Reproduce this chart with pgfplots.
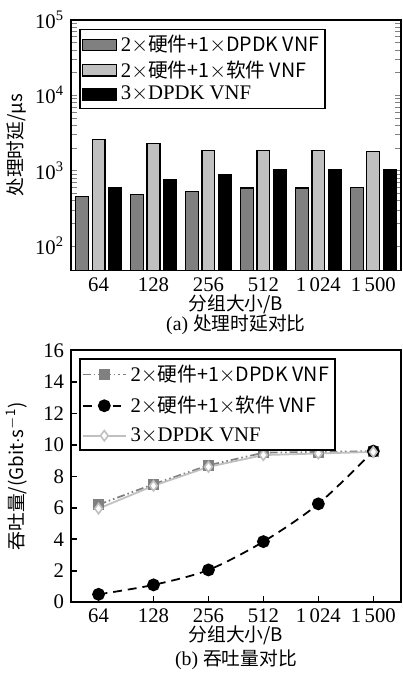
\documentclass[border=0pt]{standalone}
\usepackage{pgfplots}
\pgfplotsset{compat=1.18}
\usepackage{fontspec}
\setmainfont{Liberation Serif}
\newfontfamily\cjk{Noto Sans CJK SC}[Scale=0.95]
\definecolor{dgray}{RGB}{128,128,128}
\definecolor{lgray}{RGB}{192,192,192}
\newcommand{\x}{$\times$}
\begin{document}
\fontsize{10pt}{12pt}\selectfont
\begin{tikzpicture}
\begin{axis}[
  name=top,
  at={(0,0)}, anchor=south west,
  width=167pt, height=127pt, scale only axis,
  ymode=log, ymin=47, ymax=1e5, log origin=infty,
  xmin=-0.5, xmax=5.5,
  xtick={0,...,5}, xticklabels={64,128,256,512,1\,024,1\,500},
  ytick={100,1000,10000,100000},
  yticklabels={10\textsuperscript{2},10\textsuperscript{3},10\textsuperscript{4},10\textsuperscript{5}},
  major tick length=0pt, minor tick num=0,
  axis line style={line width=1pt},
  tick label style={font=\fontsize{10.5pt}{12pt}\selectfont},
  ybar=1.75pt, bar width=6.5pt,
  xlabel={\cjk{分组大小}/B},
  xlabel style={at={(axis description cs:0.5,0)}, anchor=center, yshift=-17pt},
  ylabel={\cjk{处理时延}/μs},
  ylabel style={at={(axis description cs:-0.165,0.5)}, anchor=center},
  legend style={at={(0.025,0.965)}, anchor=north west, draw=black, line width=0.8pt,
    font=\fontsize{10.5pt}{11pt}\selectfont, cells={anchor=west}, inner sep=1pt, row sep=-1pt},
  area legend,
]
\addplot[fill=dgray, draw=black, line width=0.6pt] coordinates {(0,455) (1,480) (2,530) (3,585) (4,585) (5,590)};
\addplot[fill=lgray, draw=black, line width=0.6pt] coordinates {(0,2600) (1,2250) (2,1850) (3,1850) (4,1850) (5,1780)};
\addplot[fill=black, draw=black, line width=0.6pt] coordinates {(0,600) (1,760) (2,885) (3,1040) (4,1040) (5,1040)};
\legend{2\x\cjk{硬件}+1\x DPDK VNF, 2\x\cjk{硬件}+1\x\cjk{软件} VNF, 3\x DPDK VNF}
\end{axis}
\path ([yshift=10pt]top.north);
\node[anchor=center] at ([yshift=-27.5pt]top.south) {(a) \cjk{处理时延对比}};

\begin{axis}[
  name=bot,
  at={(0,-40.5pt)}, anchor=north west,
  width=167pt, height=127.5pt, scale only axis,
  ymin=0, ymax=16, ytick={0,2,...,16},
  xmin=-0.5, xmax=5.5,
  xtick={0,...,5}, xticklabels={64,128,256,512,1\,024,1\,500},
  xtick pos=bottom, ytick pos=left, tick align=inside, major tick length=3pt,
  tick style={line width=0.8pt, black},
  axis line style={line width=1pt},
  /pgf/number format/assume math mode=true,
  tick label style={font=\fontsize{10.5pt}{12pt}\selectfont},
  xlabel={\cjk{分组大小}/B},
  xlabel style={at={(axis description cs:0.5,0)}, anchor=center, yshift=-17pt},
  ylabel={\cjk{吞吐量}/(Gbit$\cdot$s\textsuperscript{$-$1})},
  ylabel style={at={(axis description cs:-0.165,0.5)}, anchor=center},
  legend style={at={(0.025,0.97)}, anchor=north west, draw=black, line width=0.8pt,
    font=\fontsize{10.5pt}{11pt}\selectfont, cells={anchor=west}, inner sep=1pt, row sep=2pt},
  legend image code/.code={\draw[mark repeat=2,mark phase=2,#1] plot coordinates {(0cm,0cm) (0.38cm,0cm) (0.76cm,0cm)};},
]
\addplot[color=dgray, line width=0.9pt, dash pattern=on 4pt off 1.5pt on 0.8pt off 1.5pt on 0.8pt off 1.5pt,
  mark=square*, mark size=2.4pt, mark options={solid, fill=dgray, draw=dgray}]
  coordinates {(0,6.2) (1,7.5) (2,8.7) (3,9.5) (4,9.55) (5,9.6)};
\addplot[color=black, line width=0.9pt, dash pattern=on 4.5pt off 3pt, smooth,
  mark=*, mark size=2.8pt, mark options={solid, fill=black}]
  coordinates {(0,0.5) (1,1.1) (2,2.05) (3,3.85) (4,6.25) (5,9.6)};
\addplot[color=lgray, line width=0.9pt,
  mark=diamond*, mark size=2.6pt, mark options={solid, fill=white, draw=lgray, line width=0.8pt}]
  coordinates {(0,5.95) (1,7.4) (2,8.6) (3,9.35) (4,9.45) (5,9.55)};
\legend{2\x\cjk{硬件}+1\x DPDK VNF, 2\x\cjk{硬件}+1\x\cjk{软件} VNF, 3\x DPDK VNF}
\end{axis}
\node[anchor=center] at ([yshift=-29pt]bot.south) {(b) \cjk{吞吐量对比}};
\end{tikzpicture}
\end{document}
